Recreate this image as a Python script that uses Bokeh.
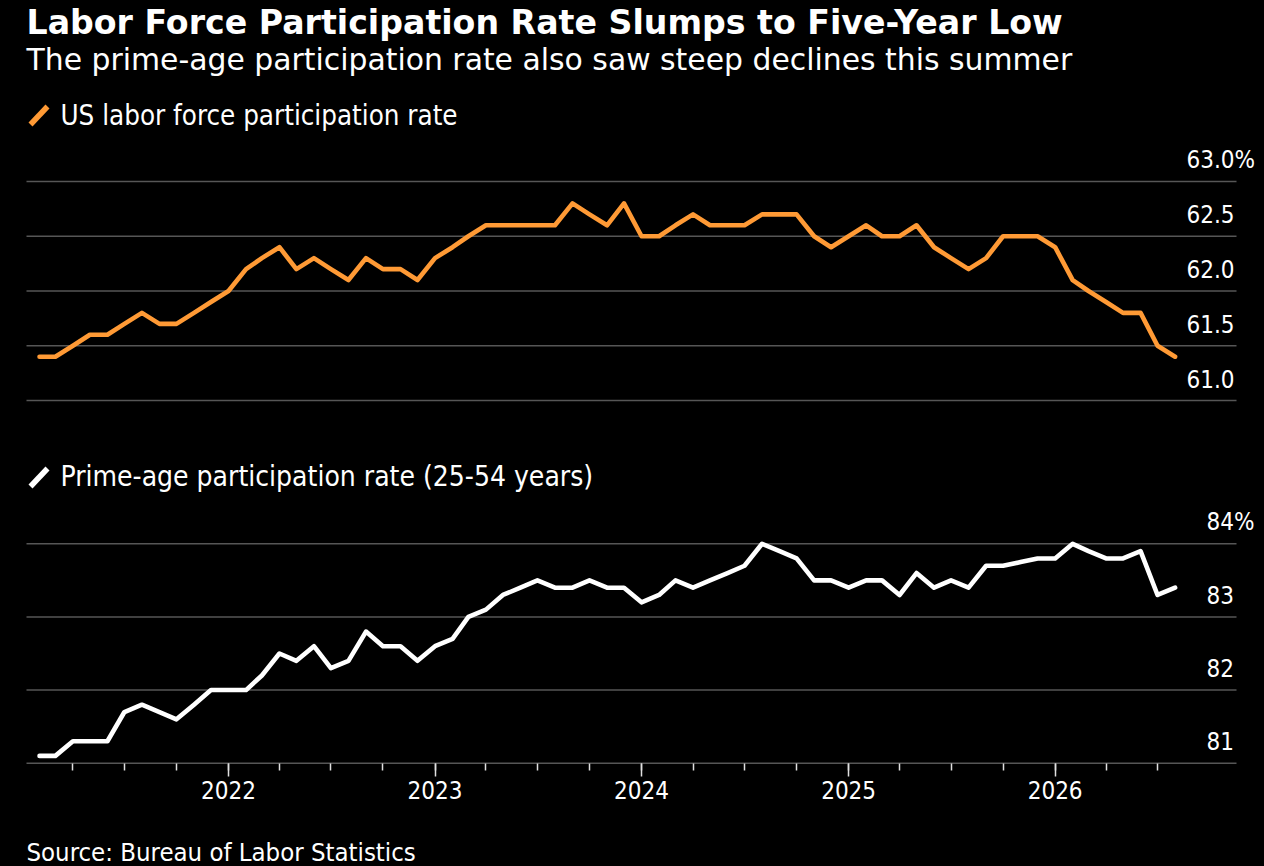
import pandas as pd
from bokeh.embed import file_html
from bokeh.layouts import column
from bokeh.models import DatetimeAxis, FixedTicker, GlobalInlineStyleSheet, Label, PolyAnnotation, Range1d
from bokeh.plotting import figure
from bokeh.resources import INLINE

TITLE = "Labor Force Participation Rate Slumps to Five-Year Low"
SUBTITLE = "The prime-age participation rate also saw steep declines this summer"
SOURCE = "Source: Bureau of Labor Statistics"
NAME_ALL = "US labor force participation rate"
NAME_PRIME = "Prime-age participation rate (25-54 years)"

months = pd.date_range("2021-02-01", periods=67, freq="MS")

labor_force = [
    61.4, 61.4, 61.5, 61.6, 61.6, 61.7, 61.8, 61.7, 61.7, 61.8, 61.9,
    62.0, 62.2, 62.3, 62.4, 62.2, 62.3, 62.2, 62.1, 62.3, 62.2, 62.2, 62.1,
    62.3, 62.4, 62.5, 62.6, 62.6, 62.6, 62.6, 62.6, 62.8, 62.7, 62.6, 62.8,
    62.5, 62.5, 62.6, 62.7, 62.6, 62.6, 62.6, 62.7, 62.7, 62.7, 62.5, 62.4,
    62.5, 62.6, 62.5, 62.5, 62.6, 62.4, 62.3, 62.2, 62.3, 62.5, 62.5, 62.5,
    62.4, 62.1, 62.0, 61.9, 61.8, 61.8, 61.5, 61.4,
]
prime_age = [
    81.1, 81.1, 81.3, 81.3, 81.3, 81.7, 81.8, 81.7, 81.6, 81.8, 82.0,
    82.0, 82.0, 82.2, 82.5, 82.4, 82.6, 82.3, 82.4, 82.8, 82.6, 82.6, 82.4,
    82.6, 82.7, 83.0, 83.1, 83.3, 83.4, 83.5, 83.4, 83.4, 83.5, 83.4, 83.4,
    83.2, 83.3, 83.5, 83.4, 83.5, 83.6, 83.7, 84.0, 83.9, 83.8, 83.5, 83.5,
    83.4, 83.5, 83.5, 83.3, 83.6, 83.4, 83.5, 83.4, 83.7, 83.7, 83.75, 83.8,
    83.8, 84.0, 83.9, 83.8, 83.8, 83.9, 83.3, 83.4,
]

top_ticks = [63.0, 62.5, 62.0, 61.5, 61.0]
top_labels = ["63.0%", "62.5", "62.0", "61.5", "61.0"]
bottom_ticks = [84, 83, 82, 81]
bottom_labels = ["84%", "83", "82", "81"]
year_ticks = ["2022-01-01", "2023-01-01", "2024-01-01", "2025-01-01", "2026-01-01"]
year_labels = ["2022", "2023", "2024", "2025", "2026"]
quarter_ticks = pd.date_range("2021-04-01", "2026-07-01", freq="3MS")

ORANGE = "#ff9a35"
WHITE = "#ffffff"
GRID = "#565656"
FONT = "DejaVu Sans Condensed"
FONT_WIDE = "DejaVu Sans"
PX_PER_DAY = 0.5658
ORIGIN = pd.Timestamp("2022-01-01")


def px_to_date(px):
    return ORIGIN + pd.Timedelta(days=(px - 228) / PX_PER_DAY)


def ms(t):
    return pd.Timestamp(t).timestamp() * 1000


def text(p, top, x, y, s, size, bold=False, font=FONT):
    p.add_layout(Label(x=x, y=y - top, x_units="canvas", y_units="canvas", text=s,
                       text_color=WHITE, text_font=font, text_font_size=f"{size}px",
                       text_font_style="bold" if bold else "normal",
                       text_baseline="alphabetic", text_align="left"))


def panel(height, y0, y1, ticks, labels, label_x, series, color):
    p = figure(width=1264, height=height, x_axis_type=None, y_axis_type=None, output_backend="svg",
               toolbar_location=None, background_fill_color="black", border_fill_color="black",
               min_border=0, x_range=Range1d(px_to_date(0), px_to_date(1264)), y_range=Range1d(y0, y1))
    p.outline_line_color = None
    n = len(ticks)
    p.segment(x0=[px_to_date(26)] * n, x1=[px_to_date(1236)] * n, y0=ticks, y1=ticks,
              line_color=GRID, line_width=1.6)
    p.line(months, series, line_color=color, line_width=4.6, line_join="round", line_cap="round")
    for v, s in zip(ticks, labels):
        p.add_layout(Label(x=label_x, y=v, x_units="canvas", y_units="data", y_offset=22, text=s,
                           text_color=WHITE, text_font=FONT, text_font_size="24px",
                           text_baseline="alphabetic", text_align="left"))
    return p


def key(p, top, y, color):
    p.add_layout(PolyAnnotation(xs=[30, 47], ys=[y + 18 - top, y - top],
                                xs_units="canvas", ys_units="canvas",
                                line_color=color, line_width=5.5, fill_alpha=0, line_alpha=1))


top_fig = panel(430, 61 - 30 / 109.5, 63 + 181 / 109.5, top_ticks, top_labels, 1186, labor_force, ORANGE)
text(top_fig, 0, 26, 22, TITLE, 33.2, bold=True, font=FONT_WIDE)
text(top_fig, 0, 26, 59, SUBTITLE, 29.85, font=FONT_WIDE)
text(top_fig, 0, 60, 114, NAME_ALL, 27.5)
key(top_fig, 0, 106, ORANGE)

bot_fig = panel(436, 81 - 103.3 / 73.13, 84 + 113.3 / 73.13, bottom_ticks, bottom_labels, 1206, prime_age, WHITE)
ax = DatetimeAxis(fixed_location=81)
ax.ticker = FixedTicker(ticks=[ms(t) for t in year_ticks], minor_ticks=[ms(t) for t in quarter_ticks])
ax.major_label_overrides = {ms(t): s for t, s in zip(year_ticks, year_labels)}
ax.axis_line_color = None
ax.major_tick_line_color = "#e0e0e0"
ax.minor_tick_line_color = "#e0e0e0"
ax.major_tick_line_width = 1.5
ax.minor_tick_line_width = 1.5
ax.major_tick_in = 0
ax.minor_tick_in = 0
ax.major_tick_out = 13
ax.minor_tick_out = 7
ax.major_label_standoff = 5
ax.major_label_text_color = WHITE
ax.major_label_text_font = FONT
ax.major_label_text_font_size = "24px"
bot_fig.add_layout(ax, "below")
text(bot_fig, 430, 60, 476, NAME_PRIME, 28)
key(bot_fig, 430, 468, WHITE)
text(bot_fig, 430, 26, 851, SOURCE, 25.5)

page = column(top_fig, bot_fig, spacing=0,
              stylesheets=[GlobalInlineStyleSheet(css="html,body{background:#000;margin:0}")])
open("out.html", "w").write(file_html(page, INLINE))
